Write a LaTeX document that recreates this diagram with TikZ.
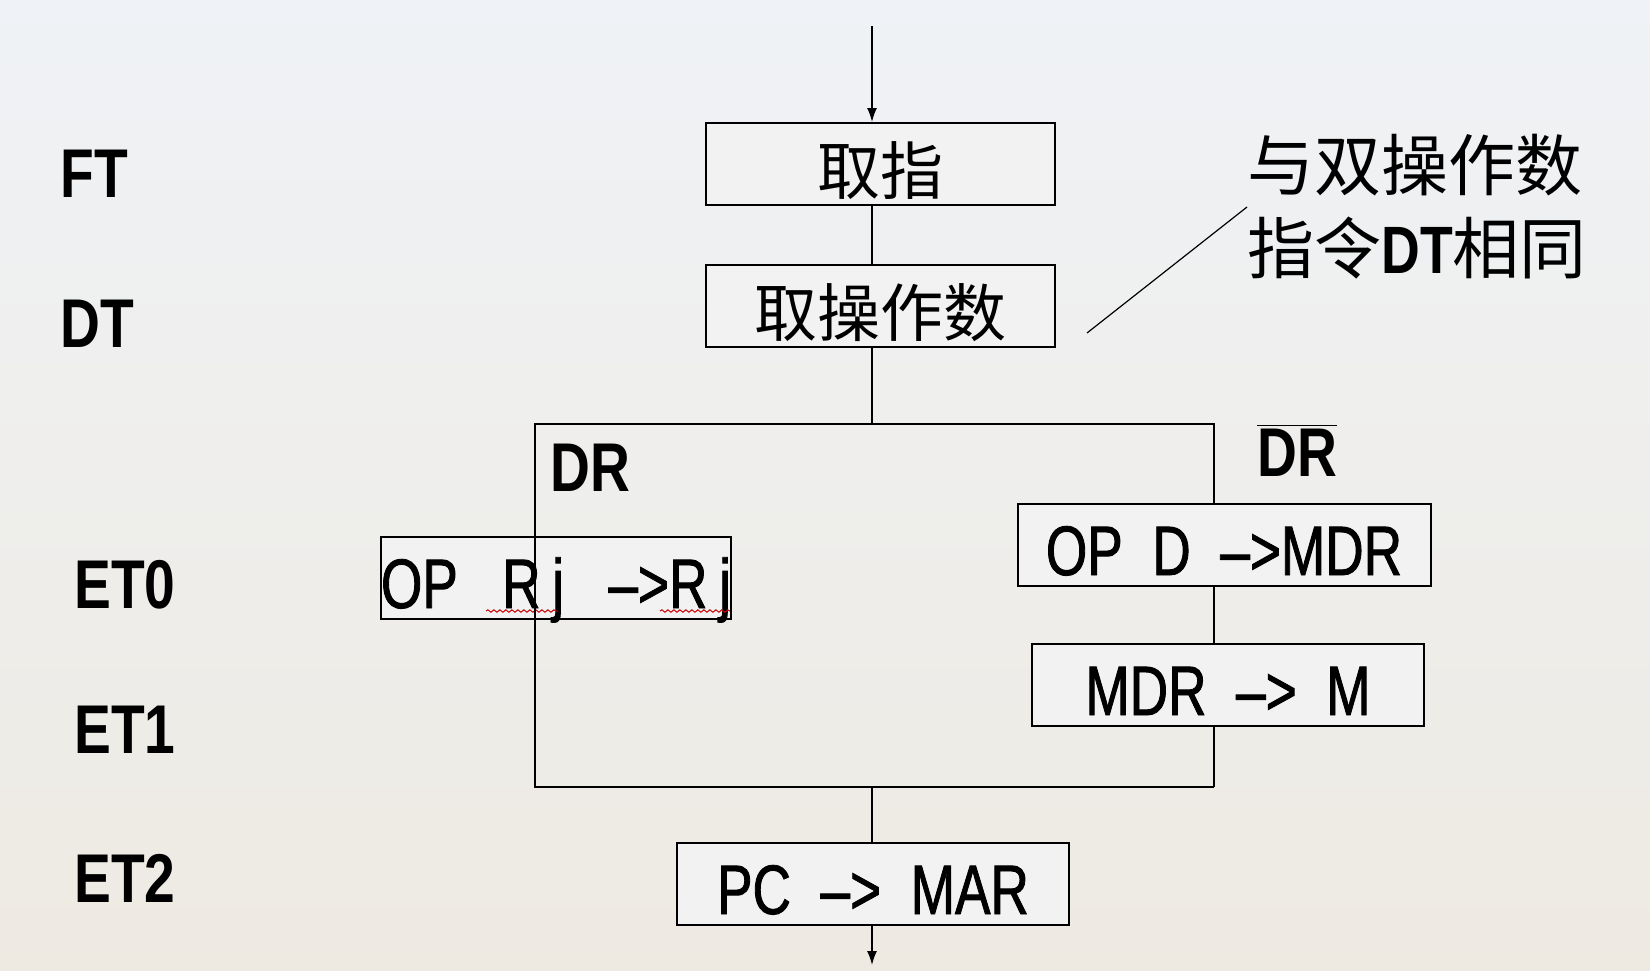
\documentclass[tikz,border=0pt]{standalone}
\usepackage{fontspec}
\setmainfont{Liberation Sans}[FakeStretch=0.8]
\newfontfamily\opfamily{Liberation Sans}[FakeStretch=0.76,FakeBold=1.2]
\newfontfamily\cjk{Noto Sans CJK SC}
\usetikzlibrary{arrows.meta}
\usetikzlibrary{decorations.pathmorphing}

\definecolor{boxfill}{HTML}{F2F2F2}
\definecolor{skytop}{HTML}{EFF2F6}
\definecolor{skybot}{HTML}{EEEAE2}

\tikzset{
  stage/.style={draw,line width=1pt,fill=boxfill,inner sep=0pt,minimum height=41pt,
    text height=30pt,text depth=0pt},
  phase/.style={anchor=base west,inner sep=0pt,font=\fontsize{34.5}{40}\selectfont\bfseries},
  opfont/.style={font=\fontsize{35}{40}\selectfont\opfamily},
  cjkfont/.style={font=\fontsize{31.5}{38}\selectfont\cjk},
  flow/.style={line width=0.8pt},
  spell/.style={red!80!black,line width=0.5pt,decorate,
    decoration={snake,segment length=3pt,amplitude=0.6pt}}
}

\begin{document}
\begin{tikzpicture}[x=0.5pt,y=-0.5pt]
  \shade[top color=skytop,bottom color=skybot] (0,0) rectangle (1650,970);
  \useasboundingbox (0,0) rectangle (1650,970);

  % phases
  \node[phase] (ft)  at (60,197) {FT};
  \node[phase] (dt)  at (60,347) {DT};
  \node[phase] (et0) at (74,608) {ET0};
  \node[phase] (et1) at (74,753) {ET1};
  \node[phase] (et2) at (74,902) {ET2};

  % steps
  \node[stage,cjkfont,minimum width=174.5pt] (fetch)   at (880,164) {取指};
  \node[stage,cjkfont,minimum width=174.5pt] (operand) at (880,306) {取操作数};
  \node[stage,opfont,minimum width=174.5pt]  (oprj)    at (556,578) {OP\ \ \ R\,j\ \ \ –>R\,j};
  \node[stage,opfont,minimum width=206.5pt]  (opd)     at (1224,545) {OP\ \ D\ \ –>MDR};
  \node[stage,opfont,minimum width=196pt]    (mdrm)    at (1228,685) {MDR\ \ –>\ \ M};
  \node[stage,opfont,minimum width=196pt]    (pcmar)   at (873,884) {PC\ \ –>\ \ MAR};

  \draw[spell] (486,611) -- (558,611);
  \draw[spell] (660,611) -- (730,611);

  % branch frame
  \coordinate (in)    at (872,26);
  \coordinate (out)   at (872,965);
  \coordinate (split) at (872,424);
  \coordinate (merge) at (872,787);
  \coordinate (tl) at (535,424);
  \coordinate (tr) at (1214,424);
  \coordinate (bl) at (535,787);
  \coordinate (br) at (1214,787);

  \draw[flow,-{Latex[length=7pt,width=5pt]}] (in) -- (in |- fetch.north);
  \draw[flow] (in |- fetch.south) -- (in |- operand.north);
  \draw[flow] (in |- operand.south) -- (split);
  \draw[flow] (split) -- (tl) -- (bl) -- (merge) -- (br);
  \draw[flow] (split) -- (tr) -- (tr |- opd.north);
  \draw[flow] (tr |- opd.south) -- (tr |- mdrm.north);
  \draw[flow] (tr |- mdrm.south) -- (br);
  \draw[flow] (merge) -- (merge |- pcmar.north);
  \draw[flow,-{Latex[length=7pt,width=5pt]}] (merge |- pcmar.south) -- (out);

  \node[phase] (dr)    at (550,491) {DR};
  \node[phase] (notdr) at (1257,476) {$\overline{\hbox{DR}}$};

  % note
  \node[anchor=west,inner sep=0pt,align=left,font=\fontsize{33.5}{41.5}\selectfont\cjk]
    (note) at (1247,207) {与双操作数\\指令{\rmfamily\bfseries DT}相同};
  \coordinate (pointer) at (1087,333);
  \draw[line width=0.6pt] (pointer) -- (note.west);
\end{tikzpicture}
\end{document}
